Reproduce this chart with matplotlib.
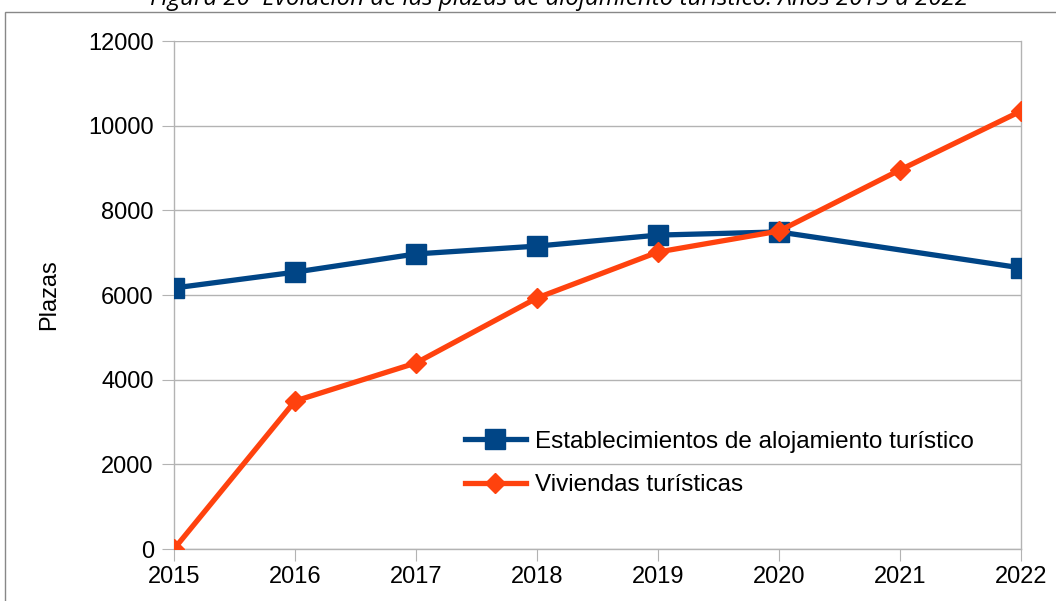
import numpy as np
import matplotlib.pyplot as plt
from matplotlib.patches import Rectangle

years = [2015, 2016, 2017, 2018, 2019, 2020, 2021, 2022]
establecimientos = [6165, 6540, 6970, 7155, 7415, 7490, np.nan, 6640]
viviendas = [0, 3495, 4395, 5930, 7015, 7510, 8955, 10345]

title = "Figura 20  Evolución de las plazas de alojamiento turístico. Años 2015 a 2022"
blue = "#004586"
orange = "#ff420e"
grid_col = "#b3b3b3"

plt.rcParams['font.family'] = ['Liberation Sans', 'DejaVu Sans']

fig = plt.figure(figsize=(10.56, 6.01), dpi=100)
ax = fig.add_axes([174 / 1056, 1 - 549 / 601, (1021 - 174) / 1056, (549 - 41) / 601])

# outer chart border
fig.patches.append(Rectangle((5 / 1056, -0.1), 1.2, 1 - 12 / 601 + 0.1, transform=fig.transFigure,
                             fill=False, edgecolor="#888888", linewidth=1))

est = np.array(establecimientos, dtype=float)
ok = ~np.isnan(est)
yrs = np.array(years)
ax.plot(yrs[ok], est[ok], color=blue, lw=3.8, marker="s", markersize=14,
        label="Establecimientos de alojamiento turístico", zorder=3)
ax.plot(years, viviendas, color=orange, lw=3.8, marker="D", markersize=10,
        label="Viviendas turísticas", zorder=4)

ax.set_xlim(2015, 2022)
ax.set_ylim(0, 12000)
ax.set_yticks(range(0, 12001, 2000))
ax.set_xticks(years)
ax.grid(axis="y", color=grid_col, lw=1)
ax.set_axisbelow(True)
for s in ax.spines.values():
    s.set_color(grid_col)
    s.set_linewidth(1)
ax.spines["top"].set_visible(False)
ax.tick_params(axis="both", length=8.5, color=grid_col, labelsize=17, pad=6)
ax.tick_params(axis="x", pad=4)
ax.set_ylabel("Plazas", fontsize=17, labelpad=20)
for t in ax.get_xticklabels() + ax.get_yticklabels():
    t.set_clip_on(False)

leg = ax.legend(loc="upper left", bbox_to_anchor=(0.329, 0.257), frameon=False, fontsize=17.5,
                handlelength=2.5, handletextpad=0.4, labelspacing=0.9, borderpad=0)

fig.text(0.529, 1 - 5 / 601, title, ha="center", va="baseline", fontsize=17.4,
         style="italic", family=["Open Sans", "DejaVu Sans"])

fig.savefig("out.png", dpi=100)
